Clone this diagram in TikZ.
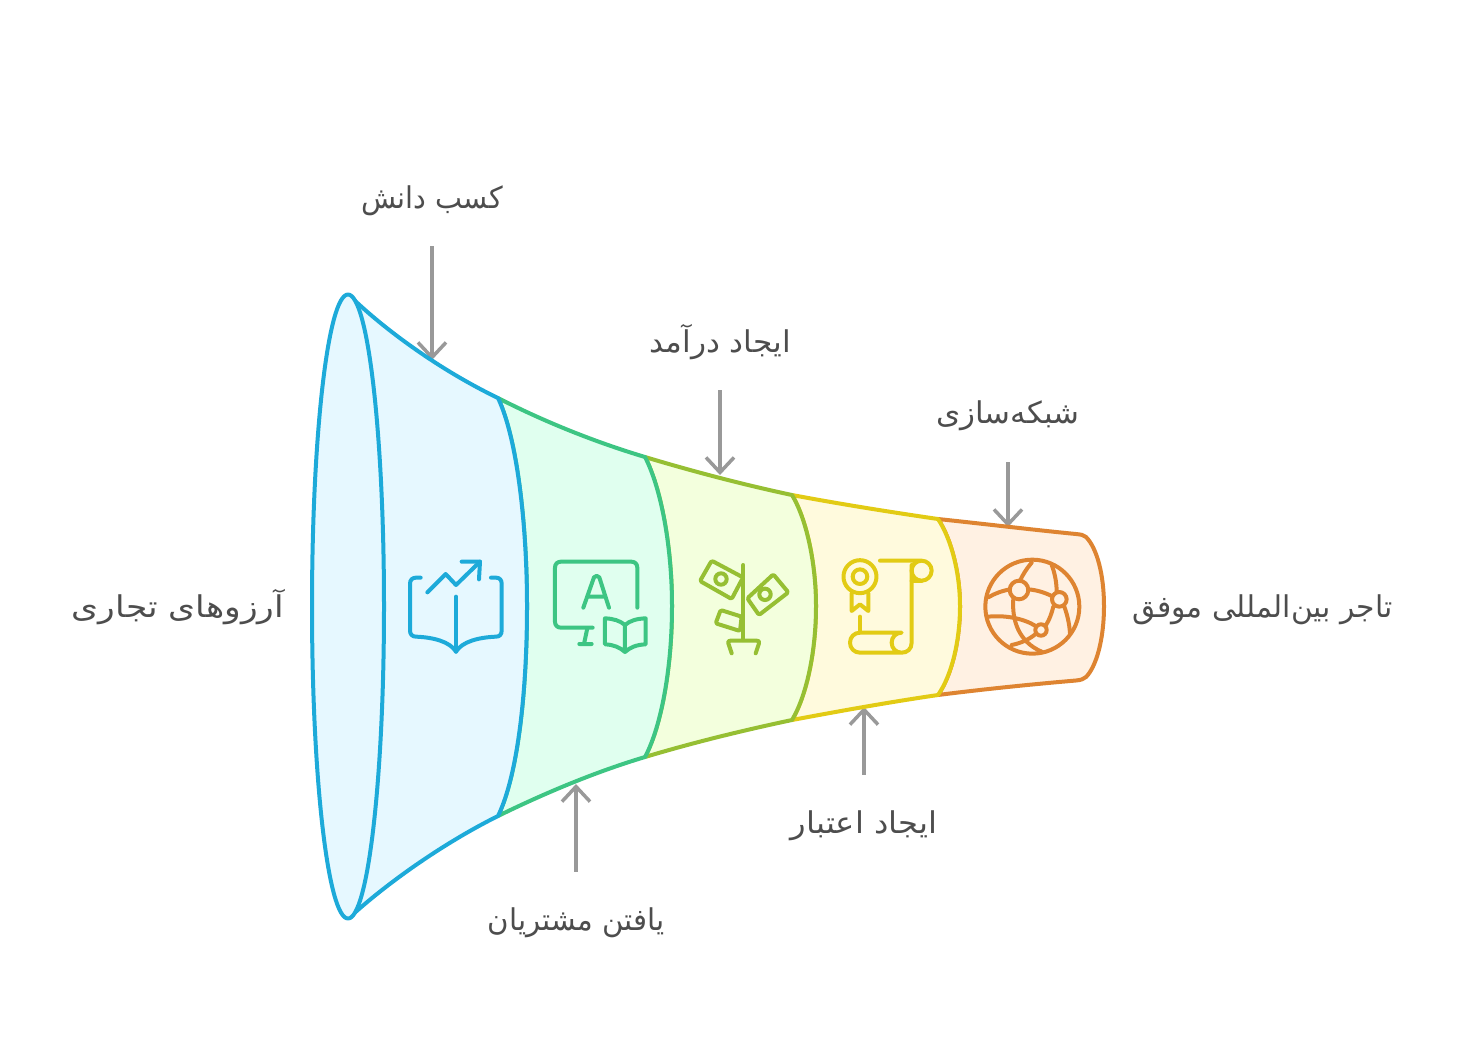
\documentclass[tikz,border=0pt]{standalone}
\usepackage{fontspec}
\usetikzlibrary{arrows.meta}
\TeXXeTstate=1
\newfontfamily\arabicfont[Script=Arabic]{DejaVu Sans}
\definecolor{cblue}{HTML}{1DAAD9}\definecolor{fblue}{HTML}{E6F8FF}
\definecolor{cgreen}{HTML}{3DC583}\definecolor{fgreen}{HTML}{E0FFEF}
\definecolor{clime}{HTML}{96BF33}\definecolor{flime}{HTML}{F3FFDD}
\definecolor{cyel}{HTML}{E2CB14}\definecolor{fyel}{HTML}{FFFADD}
\definecolor{corg}{HTML}{DE8431}\definecolor{forg}{HTML}{FFF1E3}
\definecolor{carrow}{HTML}{999999}\definecolor{ctext}{HTML}{4D4D4D}
\tikzset{
 lbl/.style={inner sep=0pt,text=ctext,text height=16pt,text depth=10pt,anchor=base,font=\arabicfont\fontsize{30}{36}\selectfont},
 conn/.style={draw=carrow,line width=3.5pt,-{Straight Barb[length=15pt,width=28pt,line width=3.5pt]}},
 seg/.style={line width=4pt,line join=round},
 ico/.style={line width=4pt,line cap=round,line join=round,fill=none},
}
\begin{document}
\begin{tikzpicture}[x=1pt,y=-1pt]
\useasboundingbox (0,0) rectangle (1464,1037);
\node[lbl] (dream) at (178,617) {\scalebox{1.15}[1]{\beginR آرزوهای تجاری\endR}};
\node[lbl] (know) at (432,208) {\scalebox{0.955}[1]{\beginR کسب دانش\endR}};
\node[lbl] (cust) at (576,930) {\scalebox{0.975}[1]{\beginR یافتن مشتریان\endR}};
\node[lbl] (income) at (720,352) {\scalebox{1.04}[1]{\beginR ایجاد درآمد\endR}};
\node[lbl] (cred) at (864,833) {\scalebox{1.075}[1]{\beginR ایجاد اعتبار\endR}};
\node[lbl] (net) at (1008,423) {\scalebox{1.03}[1]{\beginR شبکه‌سازی\endR}};
\node[lbl] (trader) at (1262.5,617) {\scalebox{0.99}[1]{\beginR تاجر بین‌المللی موفق\endR}};
\coordinate (tKnow) at (432,360);
\coordinate (tCust) at (576,784);
\coordinate (tIncome) at (720,475);
\coordinate (tCred) at (864,707);
\coordinate (tNet) at (1008,527);
\draw[conn,shorten <=28pt] (know.south) -- (tKnow);
\draw[conn,shorten <=42pt] (cust.north) -- (tCust);
\draw[conn,shorten <=28pt] (income.south) -- (tIncome);
\draw[conn,shorten <=42pt] (cred.north) -- (tCred);
\draw[conn,shorten <=29pt] (net.south) -- (tNet);
% funnel, right to left
\draw[seg,draw=corg,fill=forg] (938,519) .. controls (985,524) and (1035,530) .. (1076,534) .. controls (1081,534.5) and (1084,535) .. (1086,537) .. controls (1097,548) and (1104,575) .. (1104,606) .. controls (1104,640) and (1096,667) .. (1086,677) .. controls (1084,679) and (1081,680) .. (1076,680.5) .. controls (1035,684) and (985,689) .. (938,695) .. controls (952,675) and (960,640) .. (960,606) .. controls (960,575) and (952,540) .. (938,519) -- cycle;
\draw[seg,draw=cyel,fill=fyel] (792,495) .. controls (840,504) and (890,512) .. (938,519) .. controls (952,540) and (960,575) .. (960,606) .. controls (960,640) and (952,675) .. (938,695) .. controls (890,702) and (840,711) .. (792,720) .. controls (807,695) and (816,650) .. (816,606) .. controls (816,565) and (807,520) .. (792,495) -- cycle;
\draw[seg,draw=clime,fill=flime] (645,457) .. controls (695,472) and (745,485) .. (792,495) .. controls (807,520) and (816,565) .. (816,606) .. controls (816,650) and (807,695) .. (792,720) .. controls (745,730) and (695,742) .. (645,757) .. controls (662,725) and (672,665) .. (672,606) .. controls (672,550) and (662,490) .. (645,457) -- cycle;
\draw[seg,draw=cgreen,fill=fgreen] (498,398) .. controls (545,422) and (595,442) .. (645,457) .. controls (662,490) and (672,550) .. (672,606) .. controls (672,665) and (662,725) .. (645,757) .. controls (595,772) and (545,793) .. (498,816) .. controls (518,775) and (527,690) .. (527,606) .. controls (527,530) and (518,440) .. (498,398) -- cycle;
\draw[seg,draw=cblue,fill=fblue] (350,296) .. controls (385,330) and (440,370) .. (498,398) .. controls (518,440) and (527,530) .. (527,606) .. controls (527,690) and (518,775) .. (498,816) .. controls (440,845) and (385,885) .. (350,917) -- cycle;
\draw[seg,draw=cblue,fill=fblue] (348,606.5) ellipse [x radius=36,y radius=312];
% blue icon
\begin{scope}[xshift=400pt,yshift=-540pt,x=0.3333pt,y=-0.3333pt]
\draw[ico,cblue] (62,113) -- (48,113) .. controls (37,113) and (30,120) .. (30,131) -- (30,272) .. controls (30,283) and (37,290) .. (48,290) .. controls (100,292) and (150,305) .. (168,335) .. controls (186,305) and (236,292) .. (288,290) .. controls (299,290) and (305,283) .. (305,272) -- (305,131) .. controls (305,120) and (299,113) .. (288,113) -- (273,113);
\draw[ico,cblue] (168,170) -- (168,335);
\draw[ico,cblue] (82,157) -- (137,102) -- (168,135) -- (240,65);
\draw[ico,cblue] (185,65) -- (240,65) -- (237,118);
\end{scope}
% green icon
\begin{scope}[xshift=400pt,yshift=-540pt,x=0.3333pt,y=-0.3333pt]
\draw[ico,cgreen] (712,203) -- (712,83) .. controls (712,72) and (705,65) .. (694,65) -- (483,65) .. controls (472,65) and (465,72) .. (465,83) -- (465,245) .. controls (465,256) and (472,263) .. (483,263) -- (578,263);
\draw[ico,cgreen] (562,265) -- (552,312) (538,312) -- (575,312);
\draw[ico,cgreen] (550,203) -- (582,112) .. controls (585,106) and (595,106) .. (598,112) -- (627,203) (562,170) -- (615,170);
\draw[ico,cgreen] (675,255) .. controls (660,242) and (640,236) .. (615,235) -- (615,313) .. controls (640,314) and (660,322) .. (675,336) .. controls (690,322) and (710,314) .. (737,313) -- (737,235) .. controls (710,236) and (690,242) .. (675,255) -- (675,336);
\end{scope}
% lime icon
\begin{scope}[xshift=690pt,yshift=-545pt,x=0.3333pt,y=-0.3333pt]
\draw[ico,clime] (160,60) -- (160,285);
\draw[ico,clime] (125,325) -- (115,295) .. controls (113,289) and (116,287) .. (122,287) -- (200,287) .. controls (206,287) and (209,289) .. (207,295) -- (197,325);
\draw[ico,clime,rounded corners=1.5pt] (155,95) -- (65,47) -- (30,108) -- (125,162) -- (155,105);
\draw[ico,clime] (93,102) circle [radius=5.7pt];
\draw[ico,clime,rounded corners=1.5pt] (172,160) -- (250,88) -- (295,142) -- (207,210) -- cycle;
\draw[ico,clime] (225,148) circle [radius=5.7pt];
\draw[ico,clime,rounded corners=1.5pt] (155,215) -- (92,195) -- (77,235) -- (150,258) -- cycle;
\end{scope}
% yellow icon
\begin{scope}[xshift=690pt,yshift=-545pt,x=0.3333pt,y=-0.3333pt]
\draw[ico,cyel] (510,95) circle [radius=16.5pt];
\draw[ico,cyel] (510,95) circle [radius=7.3pt];
\draw[ico,cyel] (485,145) -- (485,198) -- (510,178) -- (535,198) -- (535,145);
\draw[ico,cyel] (510,215) -- (510,262);
\draw[ico,cyel] (570,47) -- (695,47) arc[start angle=90,end angle=-270,radius=10pt];
\draw[ico,cyel] (695,107) -- (665,107);
\draw[ico,cyel] (665,60) -- (665,293) .. controls (665,312) and (652,323) .. (635,323) -- (510,323) .. controls (493,323) and (480,310) .. (480,293) .. controls (480,276) and (493,263) .. (510,263) -- (635,263) .. controls (618,263) and (605,276) .. (605,293) .. controls (605,310) and (618,323) .. (635,323);
\end{scope}
% orange icon
\begin{scope}[xshift=970pt,yshift=-510pt,x=0.3333pt,y=-0.3333pt]
\draw[ico,corg] (187,290) circle [radius=47pt];
\draw[ico,corg] (147,240) circle [radius=9.3pt];
\draw[ico,corg] (268,268) circle [radius=7.3pt];
\draw[ico,corg] (213,360) circle [radius=5.7pt];
\draw[ico,corg] (55,262) .. controls (75,250) and (95,243) .. (120,238);
\draw[ico,corg] (175,238) .. controls (200,240) and (225,248) .. (245,258);
\draw[ico,corg] (185,158) .. controls (170,175) and (158,195) .. (150,212);
\draw[ico,corg] (245,165) .. controls (255,190) and (260,220) .. (260,245);
\draw[ico,corg] (130,265) .. controls (125,330) and (145,395) .. (215,425);
\draw[ico,corg] (250,290) .. controls (245,310) and (238,330) .. (228,345);
\draw[ico,corg] (283,290) .. controls (292,315) and (298,340) .. (300,370);
\draw[ico,corg] (55,320) .. controls (105,315) and (160,325) .. (197,348);
\draw[ico,corg] (197,372) .. controls (175,390) and (150,400) .. (125,405);
\end{scope}
\end{tikzpicture}
\end{document}
